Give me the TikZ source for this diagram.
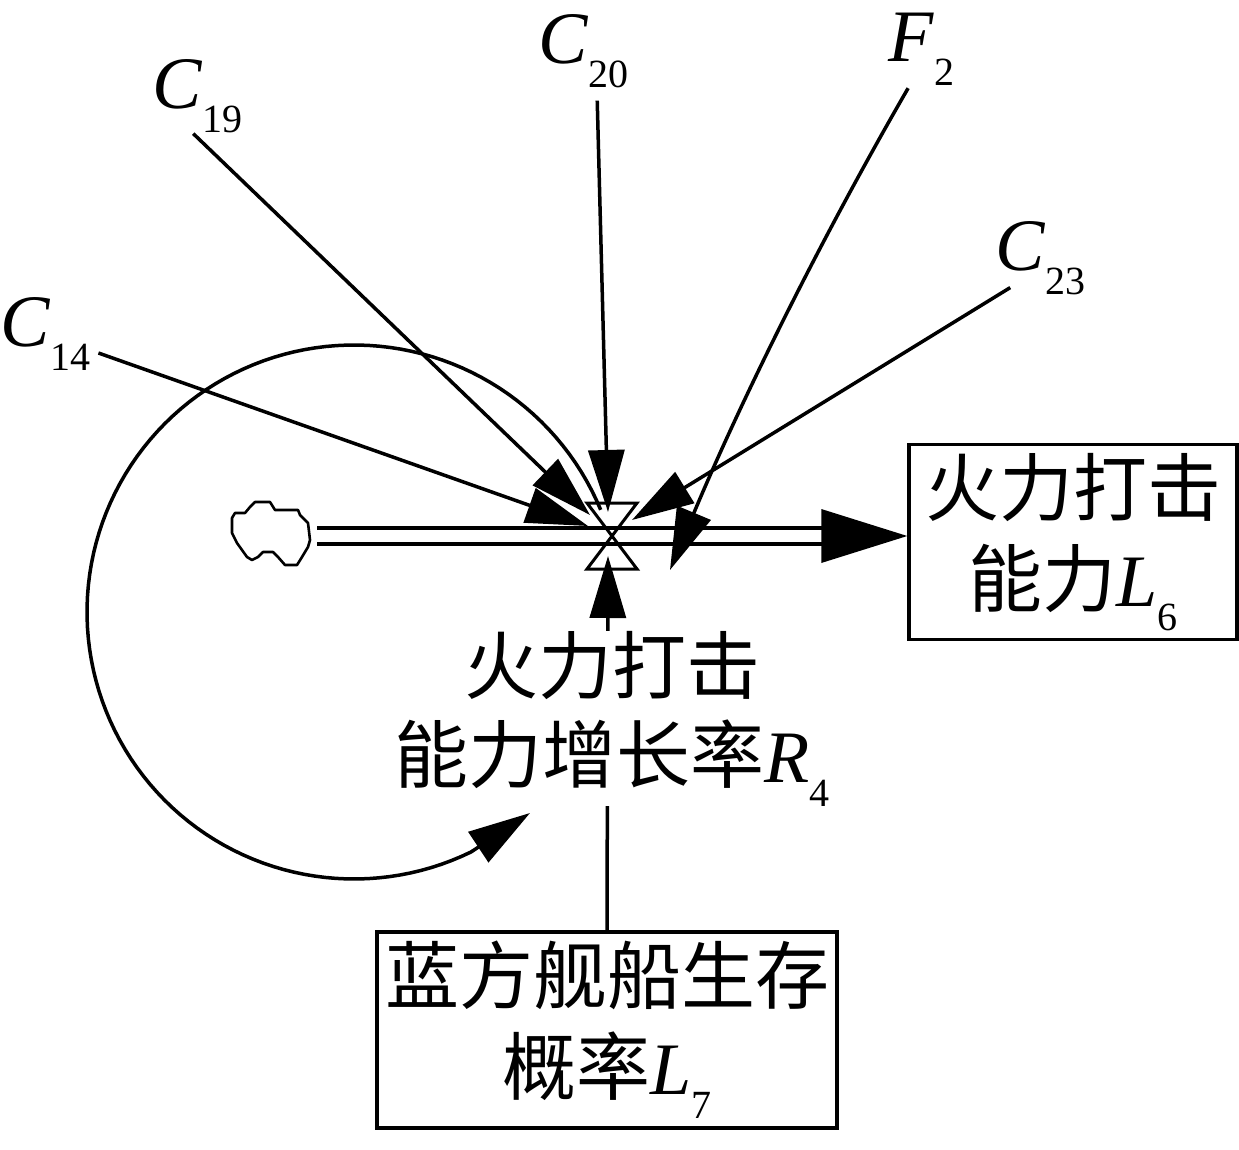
\documentclass[tikz,border=0pt]{standalone}
\usepackage{fontspec}
\setmainfont{Liberation Serif}
\newfontfamily\cjk{Noto Sans CJK SC}
\usetikzlibrary{arrows.meta,calc}
\newcommand{\vsub}[2]{\textit{#1}\raisebox{-24pt}{\fontsize{40pt}{40pt}\selectfont #2}}
\begin{document}
\begin{tikzpicture}[x=1pt,y=-1pt,
  conn/.style={line width=3.5pt,-{Triangle[length=62pt,width=36pt]}},
  lbl/.style={inner sep=0pt,anchor=base west,font=\fontsize{74pt}{89pt}\selectfont},
  stockbox/.style={draw,line width=3.5pt,inner sep=0pt,align=center,font=\fontsize{74pt}{91pt}\selectfont},
  valveline/.style={line width=3pt},
  pipeline/.style={line width=3.5pt,double,double distance=12.5pt},
  cloudline/.style={line width=2.6pt,line join=round}]
\fill[white] (0,0) rectangle (1239,1150);
\useasboundingbox (0,0) rectangle (1239,1150);

% labels of auxiliary variables
\node[lbl] (C14) at (0,346) {\vsub{C}{14}};
\node[lbl] (C19) at (152,109) {\vsub{C}{19}};
\node[lbl] (C20) at (538,64) {\vsub{C}{20}};
\node[lbl] (F2) at (888,62) {\vsub{F}{2}};
\node[lbl] (C23) at (995,271) {\vsub{C}{23}};

% stocks
\node[stockbox,minimum width=328pt,minimum height=195pt] (L6) at (1073,542)
  {{\cjk 火力打击}\\{\cjk 能力}\vsub{L}{6}};
\node[stockbox,minimum width=460pt,minimum height=196pt] (L7) at (607,1030)
  {{\cjk 蓝方舰船生存}\\{\cjk 概率}\vsub{L}{7}};

% valve
\coordinate (v) at (612,536);
\coordinate (cloud) at (271,533);

% cloud
\draw[cloudline,shift={(cloud)}]
  (-16,-31) -- (-1,-31) -- (4,-23) -- (27,-23) -- (29,-18) -- (37,-10) -- (39,7)
  -- (37,14) -- (31,24) -- (26,32) -- (14,32) -- (7,24) -- (2,19) -- (-8,19)
  -- (-13,24) -- (-19,27) -- (-24,24) -- (-34,10) -- (-39,0) -- (-39,-15)
  -- (-36,-20) -- (-26,-20) -- (-21,-26) -- cycle;

% pipe and flow arrow
\coordinate (pipeS) at ([shift={(46,3)}]cloud);
\coordinate (flowtip) at (L6.west |- v);
\draw[pipeline] (pipeS) -- ([shift={(-84,0)}]flowtip);
\fill (flowtip) -- ++(-86,-27) -- ++(0,54) -- cycle;

% valve shape
\draw[valveline] ([shift={(-25,-33)}]v) -- ([shift={(25,-33)}]v)
  -- ([shift={(-25,33)}]v) -- ([shift={(25,33)}]v) -- cycle;

% connector end points at the valve
\coordinate (tC14) at ([shift={(-24,-10)}]v);
\coordinate (tC19) at ([shift={(-22,-21)}]v);
\coordinate (tC20) at ([shift={(-4,-24)}]v);
\coordinate (tF2) at ([shift={(58,34)}]v);
\coordinate (tC23) at ([shift={(20,-16)}]v);
\coordinate (tL7) at ([shift={(-4,20)}]v);
\coordinate (loopT) at (530,813);

% connectors
\draw[conn] ([shift={(8,7)}]C14.base east) -- (tC14);
\draw[conn] ([shift={(-4,0)}]C19.south) -- (tC19);
\draw[conn] ([shift={(14,12)}]C20.south) -- (tC20);
\draw[conn] ([shift={(-13,2)}]F2.south) .. controls (818,244) and (739.5,404) .. (tF2);
\draw[conn] ([shift={(-30,-8)}]C23.south) -- (tC23);
\draw[conn] (L7.north) -- (tL7);
\draw[conn] plot[domain=22.5:296,samples=120] ({354+267*cos(\x)},{612-267*sin(\x)}) -- (loopT);

% rate label (on top of the L7 connector)
\node[inner sep=0pt,align=center,fill=white,anchor=north,font=\fontsize{74pt}{89pt}\selectfont] (R4) at (612,631)
  {{\cjk 火力打击}\\{\cjk 能力增长率}\vsub{R}{4}};
\end{tikzpicture}
\end{document}
